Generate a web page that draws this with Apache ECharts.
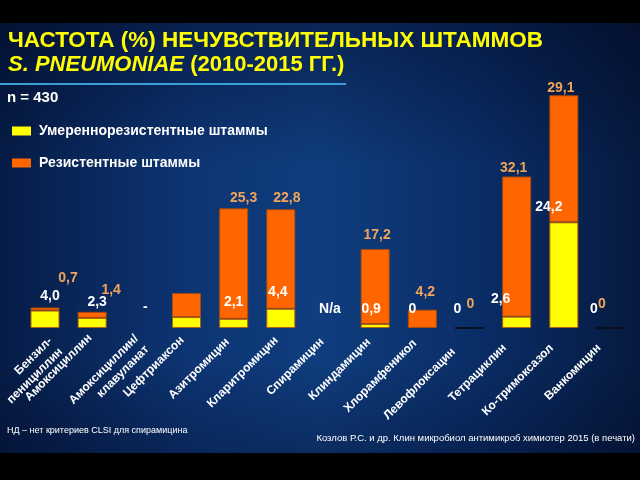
<!DOCTYPE html>
<html><head><meta charset="utf-8">
<script src="https://cdn.jsdelivr.net/npm/echarts@6/dist/echarts.min.js"></script>
<style>html,body{margin:0;padding:0;background:#000;}#c{width:640px;height:480px;}</style>
</head><body><div id="c"></div>
<script>
const categories = ['Бензил-\nпенициллин','Амоксициллин','Амоксициллин/\nклавуланат','Цефтриаксон','Азитромицин','Кларитромицин','Спирамицин','Клиндамицин','Хлорамфеникол','Левофлоксацин','Тетрациклин','Ко-тримоксазол','Ванкомицин'];
const intermediateValues = [4.0, 2.3, 0, 2.5, 2.1, 4.4, 0, 0.9, 0, 0, 2.6, 24.2, 0];
const resistantValues = [0.7, 1.4, 0, 5.5, 25.3, 22.8, 0, 17.2, 4.2, 0, 32.1, 29.1, 0];
const intermediateLabels = ['4,0','2,3','-','','2,1','4,4','N/a','0,9','0','0','2,6','24,2','0'];
const resistantLabels = ['0,7','1,4','','','25,3','22,8','','17,2','4,2','0','32,1','29,1','0'];
const seriesNames = ['Умереннорезистентные штаммы','Резистентные штаммы'];

// label layout offsets (presentation only)
const yOff = [[5,-2.5],[5,-4],[6,-9],[0,0],[0,-4.8],[-3,-4.8],[2,-7],[-4,-3],[-10,-7],[-12,-7],[-16,-5.6],[-15,-3.2],[-17,-7]];
const oOff = [[23,-17.5],[19,-9.8],[0,0],[0,0],[10,1.7],[6,0.9],[0,0],[2,-1.9],[3,-5.6],[1,-11],[-3,3.6],[-3,4.9],[-9,-11]];
// category label shifts: [along-text backward (px), perpendicular down-right (px), blank lines above]
const catShift = [[0,0,2],[3,10,0],[4,0,1],[6,3.5,0],[8.5,4,0],[6.5,2,0],[8.5,4,0],[9,-0.7,0],[10.5,-2,0],[22.5,-3,0],[17,-4,0],[17.5,-5,0],[17,-7,0]];

const FONT = 'Liberation Sans, Arial, sans-serif';
const chart = echarts.init(document.getElementById('c'));

function items(vals, labels, offs, isTop) {
  return vals.map((v, i) => {
    const it = { value: v, label: { offset: offs[i], formatter: labels[i] } };
    if (v === 0) {
      if (isTop && intermediateValues[i] === 0 && labels[i] === '0') {
        it.itemStyle = { borderColor: '#0a0f1e', borderWidth: 2 };
      } else {
        it.itemStyle = { borderWidth: 0 };
      }
    }
    return it;
  });
}

const catData = categories.map((c, i) => {
  const p = catShift[i][0], s = catShift[i][1];
  const t = s > 0 ? 2 * s : 0, b = s < 0 ? -2 * s : 0;
  return { value: c, textStyle: { padding: [t, p, b, 0] } };
});

const labelBase = { show: true, position: 'top', fontFamily: FONT, fontWeight: 'bold', fontSize: 14 };

chart.setOption({
  animation: false,
  graphic: [
    { type: 'rect', shape: { x: 0, y: 0, width: 640, height: 480 }, z: -10,
      style: { fill: { type: 'linear', x: 0, y: 0, x2: 1, y2: 0, colorStops: [
        { offset: 0, color: '#061c46' }, { offset: 0.3, color: '#0d3574' }, { offset: 0.5, color: '#0f3d7e' },
        { offset: 0.75, color: '#0a2d66' }, { offset: 1, color: '#061a40' }] } } },
    { type: 'rect', shape: { x: 0, y: 0, width: 640, height: 480 }, z: -9,
      style: { fill: { type: 'linear', x: 0, y: 0, x2: 0, y2: 1, colorStops: [
        { offset: 0, color: 'rgba(0,0,20,0.45)' }, { offset: 0.35, color: 'rgba(0,0,20,0)' },
        { offset: 0.75, color: 'rgba(0,0,20,0)' }, { offset: 1, color: 'rgba(0,0,20,0.35)' }] } } },
    { type: 'rect', shape: { x: 0, y: 0, width: 640, height: 23 }, z: -8, style: { fill: '#000' } },
    { type: 'rect', shape: { x: 0, y: 453, width: 640, height: 27 }, z: -8, style: { fill: '#000' } },
    { type: 'rect', shape: { x: 0, y: 83, width: 346, height: 2 }, z: -7, style: { fill: '#3a9fd6' } },
    { type: 'text', left: 7, top: 426, style: { text: 'НД – нет критериев CLSI для спирамицина', fill: '#fff', font: '9px ' + FONT } },
    { type: 'text', right: 5, top: 433, style: { text: 'Козлов Р.С. и др. Клин микробиол антимикроб химиотер 2015 (в печати)', fill: '#fff', font: '9.5px ' + FONT } }
  ],
  title: [
    { text: 'ЧАСТОТА (%) НЕЧУВСТВИТЕЛЬНЫХ ШТАММОВ', left: 8, top: 29, padding: 0,
      textStyle: { color: '#ffff00', fontFamily: FONT, fontWeight: 'bold', fontSize: 22.5 } },
    { text: '{i|S. PNEUMONIAE} (2010-2015 ГГ.)', left: 8, top: 54, padding: 0,
      textStyle: { color: '#ffff00', fontFamily: FONT, fontWeight: 'bold', fontSize: 22,
        rich: { i: { color: '#ffff00', fontFamily: FONT, fontWeight: 'bold', fontStyle: 'italic', fontSize: 22 } } } },
    { text: 'n = 430', left: 7, top: 90, padding: 0,
      textStyle: { color: '#fff', fontFamily: FONT, fontWeight: 'bold', fontSize: 15 } }
  ],
  legend: {
    orient: 'vertical', left: 12, top: 124, itemWidth: 19, itemHeight: 9, itemGap: 18, padding: 0,
    icon: 'rect', data: seriesNames, itemStyle: { borderWidth: 0 },
    textStyle: { color: '#fff', fontFamily: FONT, fontWeight: 'bold', fontSize: 14, padding: [0, 0, 0, 3] }
  },
  grid: { left: 21.4, right: 5.4, top: 66, bottom: 152, containLabel: false, outerBoundsMode: 'none' },
  xAxis: {
    type: 'category', data: catData,
    axisLine: { show: false }, axisTick: { show: false },
    axisLabel: { interval: 0, rotate: 45, margin: 6, color: '#fff', fontFamily: FONT, fontWeight: 'bold', fontSize: 12, lineHeight: 15, align: 'right',
      formatter: (v, i) => '\n'.repeat(catShift[i][2]) + v }
  },
  yAxis: { type: 'value', min: 0, max: 60, show: false, splitLine: { show: false } },
  series: [
    { name: seriesNames[0], type: 'bar', stack: 'a', barWidth: 29,
      itemStyle: { color: '#ffff00', borderColor: '#b06010', borderWidth: 1 },
      label: Object.assign({}, labelBase, { color: '#ffffff' }),
      data: items(intermediateValues, intermediateLabels, yOff, false) },
    { name: seriesNames[1], type: 'bar', stack: 'a', barWidth: 29,
      itemStyle: { color: '#ff6600', borderColor: '#a84a10', borderWidth: 1 },
      label: Object.assign({}, labelBase, { color: '#f2a45a' }),
      data: items(resistantValues, resistantLabels, oOff, true) }
  ]
});
</script></body></html>
